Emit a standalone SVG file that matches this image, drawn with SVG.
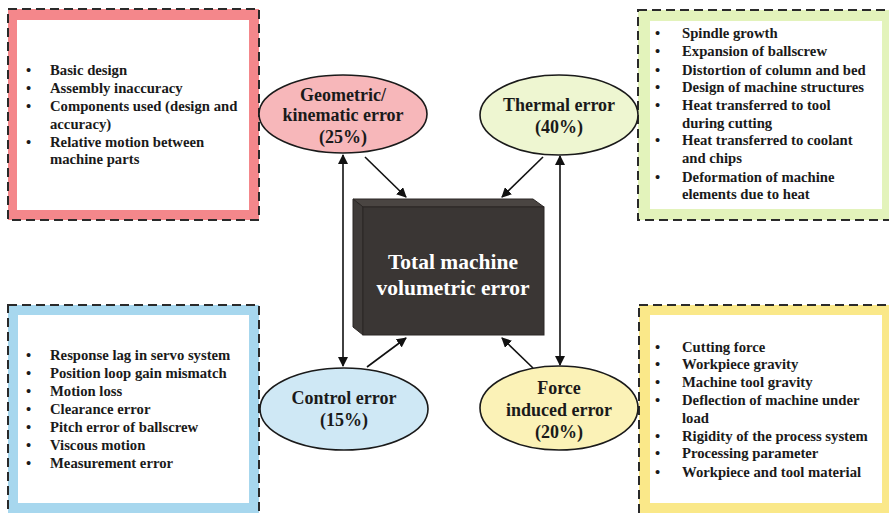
<svg xmlns="http://www.w3.org/2000/svg" width="889" height="513" viewBox="0 0 889 513">
<defs>
<marker id="ah" viewBox="0 0 10 10" refX="9" refY="5" markerWidth="10" markerHeight="10" markerUnits="userSpaceOnUse" orient="auto-start-reverse">
<path d="M0,0 L10,5 L0,10 z" fill="#111"/>
</marker>
<style>
.dash{fill:none;stroke:#2a2a2a;stroke-width:2;stroke-dasharray:9 5}
.inner{fill:#ffffff}
.li{font-family:"Liberation Serif","Times New Roman",serif;font-weight:bold;font-size:14.7px;fill:#1a1a1a}
.el{font-family:"Liberation Serif","Times New Roman",serif;font-weight:bold;font-size:18px;fill:#1a1a1a;text-anchor:middle}
.ell{stroke:#1a1a1a;stroke-width:1.6}
.con{stroke:#111;stroke-width:1.6;fill:none}
</style>
</defs>
<rect width="889" height="513" fill="#ffffff"/>

<g id="box-geometric">
<rect x="8" y="9" width="251" height="211" fill="#f4878b"/>
<rect class="inner" x="17" y="20" width="232" height="190"/>
<rect class="dash" x="8" y="9" width="251" height="211"/>
<g class="li">
<text x="26" y="75">•</text><text x="50" y="75">Basic design</text>
<text x="26" y="93">•</text><text x="50" y="93">Assembly inaccuracy</text>
<text x="26" y="111">•</text><text x="50" y="111">Components used (design and</text>
<text x="50" y="129">accuracy)</text>
<text x="26" y="147">•</text><text x="50" y="147">Relative motion between</text>
<text x="50" y="164">machine parts</text>
</g>
</g>

<g id="box-thermal">
<rect x="638" y="10" width="260" height="210" fill="#e3f3bb"/>
<rect class="inner" x="650" y="21" width="232" height="188"/>
<rect class="dash" x="638" y="10" width="260" height="210"/>
<g class="li">
<text x="655" y="38">•</text><text x="682" y="38">Spindle growth</text>
<text x="655" y="56">•</text><text x="682" y="56">Expansion of ballscrew</text>
<text x="655" y="75">•</text><text x="682" y="75">Distortion of column and bed</text>
<text x="655" y="92">•</text><text x="682" y="92">Design of machine structures</text>
<text x="655" y="110">•</text><text x="682" y="110">Heat transferred to tool</text>
<text x="682" y="128">during cutting</text>
<text x="655" y="145">•</text><text x="682" y="145">Heat transferred to coolant</text>
<text x="682" y="163">and chips</text>
<text x="655" y="182">•</text><text x="682" y="182">Deformation of machine</text>
<text x="682" y="199">elements due to heat</text>
</g>
</g>

<g id="box-control">
<rect x="8" y="305" width="251" height="215" fill="#a7d7ee"/>
<rect class="inner" x="18" y="315" width="231" height="188"/>
<rect class="dash" x="8" y="305" width="251" height="215"/>
<g class="li">
<text x="26" y="360">•</text><text x="50" y="360">Response lag in servo system</text>
<text x="26" y="378">•</text><text x="50" y="378">Position loop gain mismatch</text>
<text x="26" y="396">•</text><text x="50" y="396">Motion loss</text>
<text x="26" y="414">•</text><text x="50" y="414">Clearance error</text>
<text x="26" y="432">•</text><text x="50" y="432">Pitch error of ballscrew</text>
<text x="26" y="450">•</text><text x="50" y="450">Viscous motion</text>
<text x="26" y="468">•</text><text x="50" y="468">Measurement error</text>
</g>
</g>

<g id="box-force">
<rect x="639" y="305" width="260" height="215" fill="#fae889"/>
<rect class="inner" x="650" y="315" width="232" height="188"/>
<rect class="dash" x="639" y="305" width="260" height="215"/>
<g class="li">
<text x="655" y="352">•</text><text x="682" y="352">Cutting force</text>
<text x="655" y="369">•</text><text x="682" y="369">Workpiece gravity</text>
<text x="655" y="387">•</text><text x="682" y="387">Machine tool gravity</text>
<text x="655" y="405">•</text><text x="682" y="405">Deflection of machine under</text>
<text x="682" y="423">load</text>
<text x="655" y="441">•</text><text x="682" y="441">Rigidity of the process system</text>
<text x="655" y="458">•</text><text x="682" y="458">Processing parameter</text>
<text x="655" y="477">•</text><text x="682" y="477">Workpiece and tool material</text>
</g>
</g>

<g id="connectors">
<line class="con" x1="365" y1="157" x2="406" y2="197" marker-end="url(#ah)"/>
<line class="con" x1="543" y1="157" x2="502" y2="197" marker-end="url(#ah)"/>
<line class="con" x1="367" y1="367" x2="406" y2="338" marker-end="url(#ah)"/>
<line class="con" x1="533" y1="368" x2="502" y2="338" marker-end="url(#ah)"/>
<line class="con" x1="343" y1="155" x2="343" y2="366" marker-start="url(#ah)" marker-end="url(#ah)"/>
<line class="con" x1="560" y1="156" x2="560" y2="365" marker-start="url(#ah)" marker-end="url(#ah)"/>
</g>

<g id="node-total">
<polygon points="353,199 533,199 544,207 363,207" fill="#4a4542" stroke="#2a2624" stroke-width="1"/>
<polygon points="353,199 363,207 363,335 353,327" fill="#3f3b39" stroke="#2a2624" stroke-width="1"/>
<rect x="363" y="207" width="181" height="128" fill="#3a3634" stroke="#2a2624" stroke-width="1"/>
<text x="453" y="269" font-family="Liberation Serif, Times New Roman, serif" font-weight="bold" font-size="21.5" fill="#ffffff" text-anchor="middle">Total machine</text>
<text x="453" y="295" font-family="Liberation Serif, Times New Roman, serif" font-weight="bold" font-size="21.5" fill="#ffffff" text-anchor="middle">volumetric error</text>
</g>

<g id="node-geometric">
<ellipse class="ell" cx="343" cy="114" rx="84" ry="39" fill="#f7b7ba"/>
<text class="el" x="343" y="101">Geometric/</text>
<text class="el" x="343" y="121">kinematic error</text>
<text class="el" x="343" y="143">(25%)</text>
</g>

<g id="node-thermal">
<ellipse class="ell" cx="559" cy="115" rx="79" ry="40" fill="#eef6d1"/>
<text class="el" x="559" y="111">Thermal error</text>
<text class="el" x="559" y="133">(40%)</text>
</g>

<g id="node-control">
<ellipse class="ell" cx="344" cy="409" rx="84" ry="41" fill="#cfe8f5"/>
<text class="el" x="344" y="404">Control error</text>
<text class="el" x="344" y="426">(15%)</text>
</g>

<g id="node-force">
<ellipse class="ell" cx="559" cy="408" rx="79" ry="42" fill="#fbf2b7"/>
<text class="el" x="559" y="394">Force</text>
<text class="el" x="559" y="416">induced error</text>
<text class="el" x="559" y="438">(20%)</text>
</g>
</svg>
